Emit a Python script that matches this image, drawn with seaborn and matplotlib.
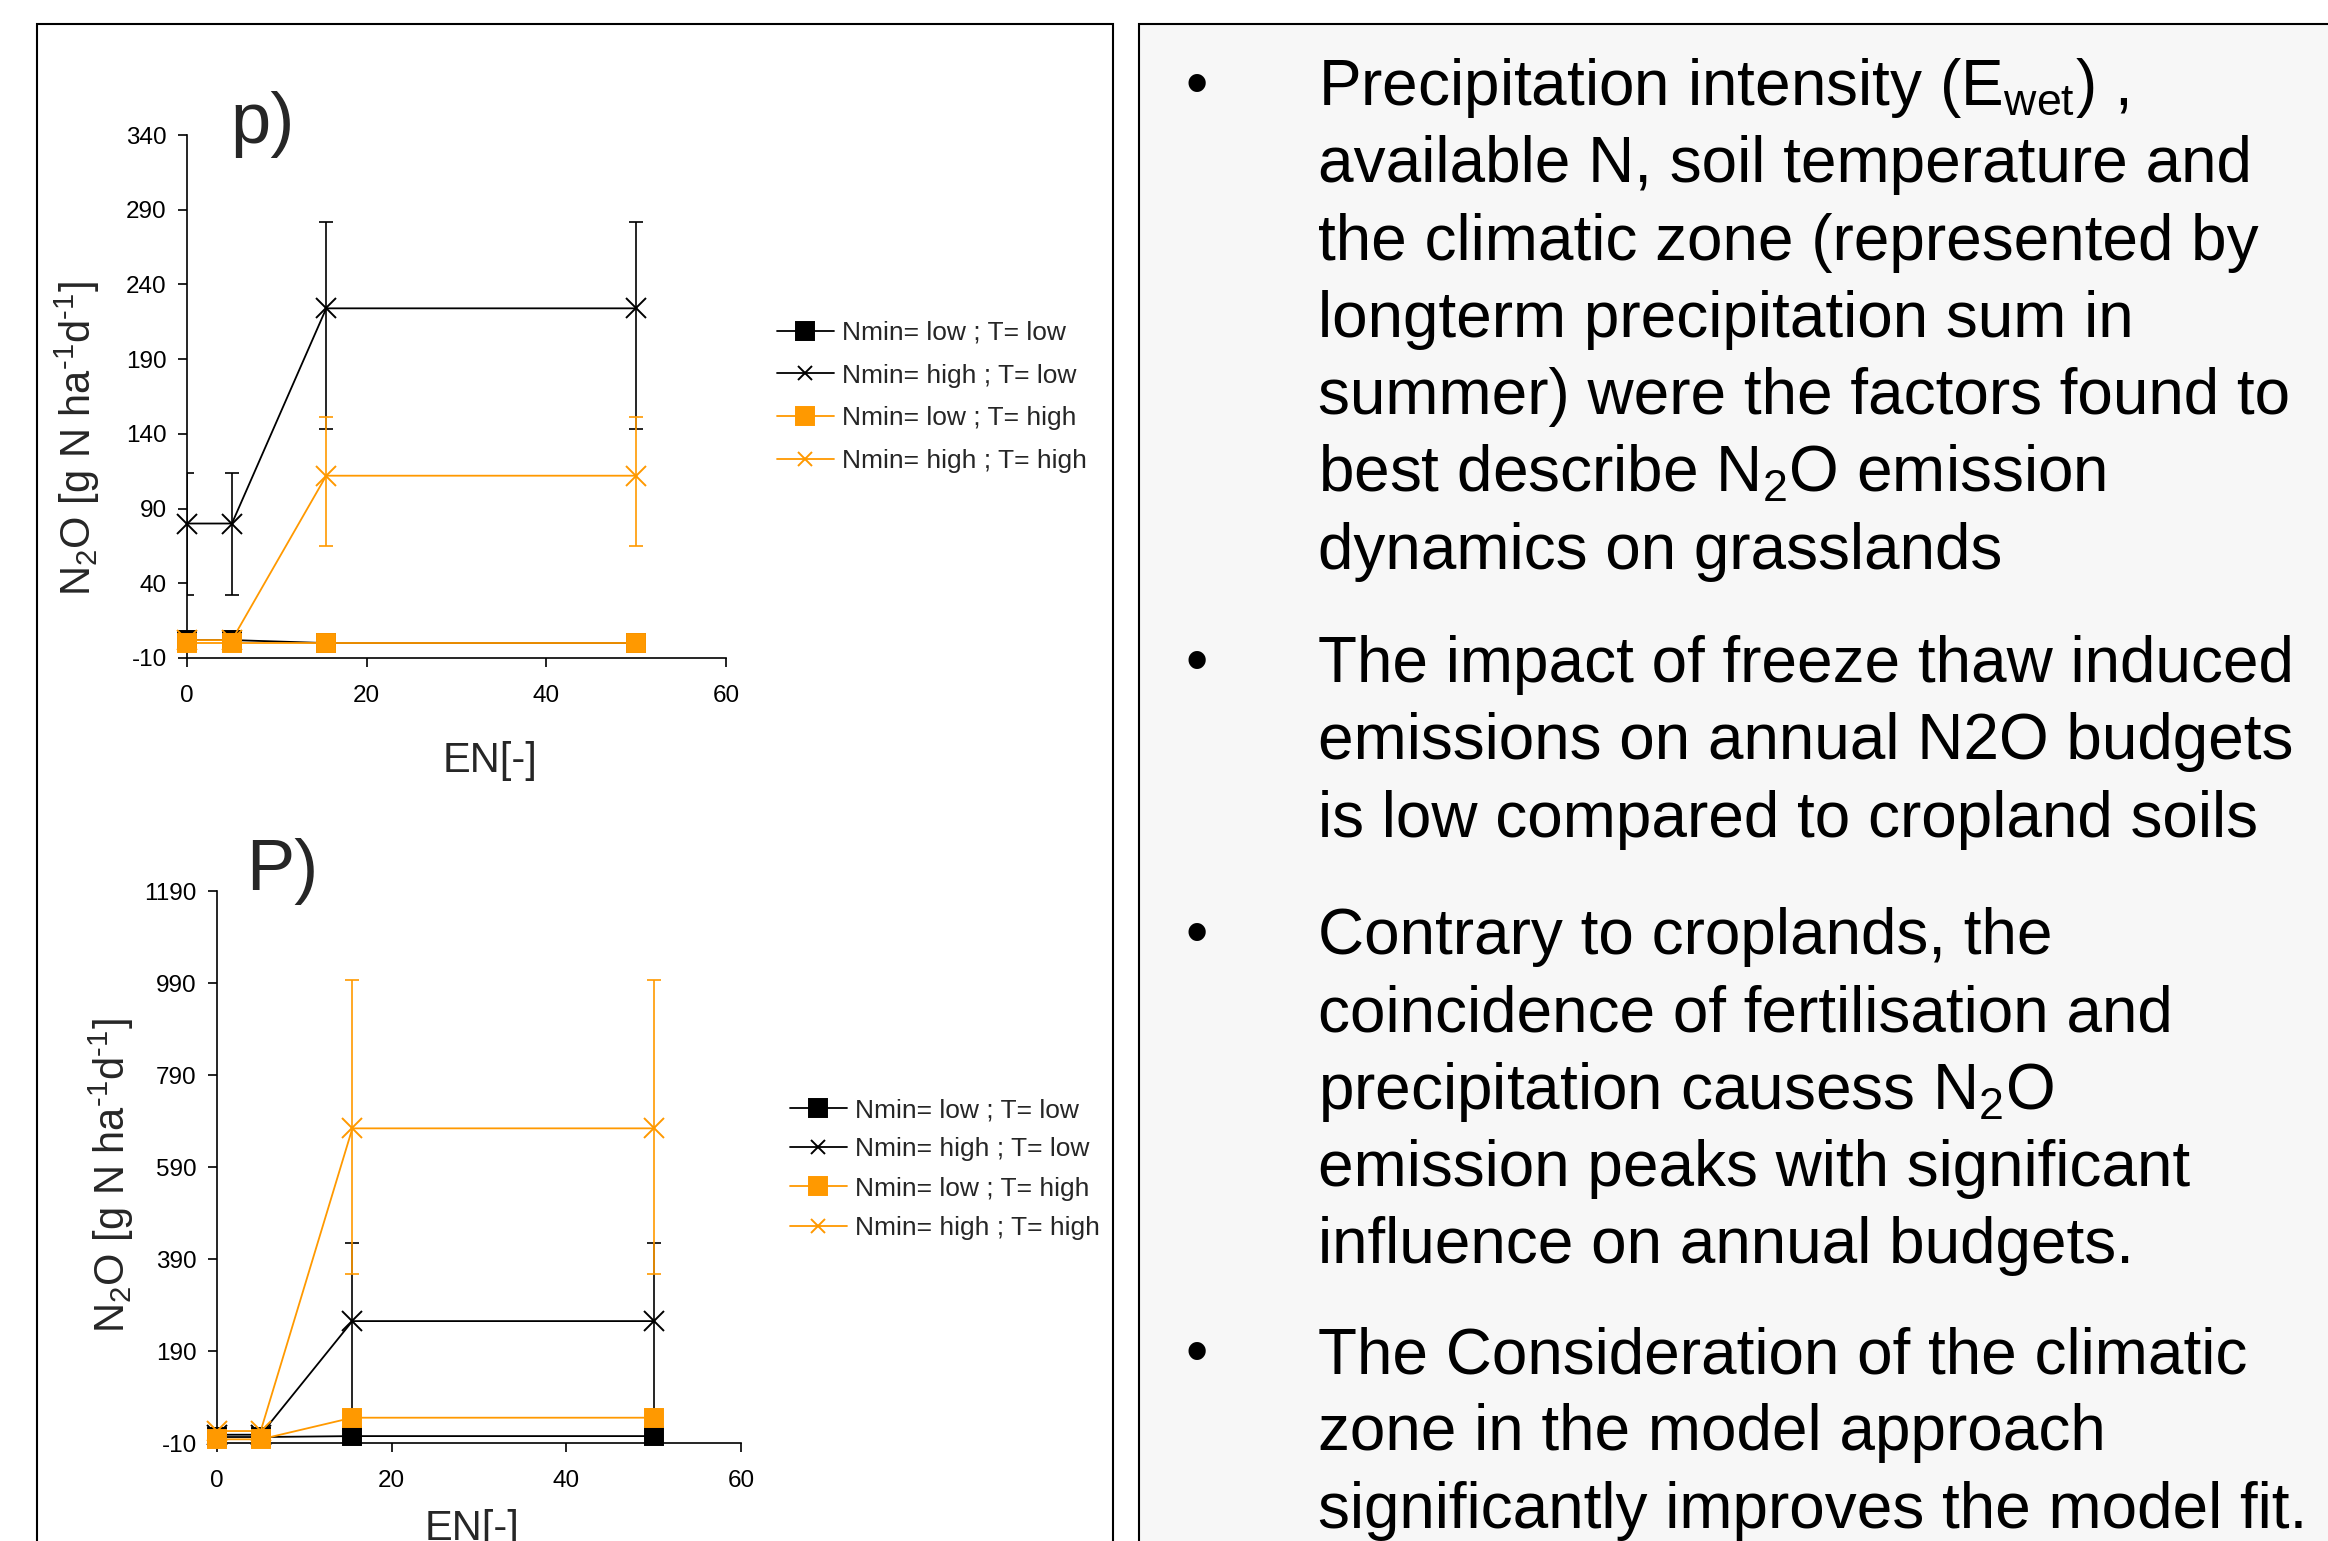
import matplotlib
matplotlib.use("Agg")
import matplotlib.pyplot as plt
import seaborn as sns
import numpy as np
from matplotlib.patches import Rectangle
from matplotlib.lines import Line2D

# ---------------- data ----------------
en = [0, 5, 15.5, 50]
series_labels = ["Nmin= low ; T= low", "Nmin= high ; T= low",
                 "Nmin= low ; T= high", "Nmin= high ; T= high"]

# panel p)
p_low_low = [2, 2, 0, 0]
p_high_low = [80, 80, 224, 224]
p_low_high = [0, 0, 0, 0]
p_high_high = [2, 2, 112, 112]
p_low_low_err_lo = [0, 0, 0, 0]
p_low_low_err_hi = [4, 4, 0, 0]
p_high_low_err_lo = [48, 48, 81, 81]
p_high_low_err_hi = [34, 34, 58, 58]
p_low_high_err_lo = [0, 0, 0, 0]
p_low_high_err_hi = [0, 0, 0, 0]
p_high_high_err_lo = [0, 0, 47, 47]
p_high_high_err_hi = [0, 0, 39, 39]
p_yticks = [-10, 40, 90, 140, 190, 240, 290, 340]

# panel P)
P_low_low = [3, 3, 5, 5]
P_high_low = [8, 8, 255, 255]
P_low_high = [-2, -2, 45, 45]
P_high_high = [16, 16, 674, 674]
P_low_low_err_lo = [0, 0, 0, 0]
P_low_low_err_hi = [0, 0, 0, 0]
P_high_low_err_lo = [0, 0, 300, 300]
P_high_low_err_hi = [0, 0, 169, 169]
P_low_high_err_lo = [0, 0, 0, 0]
P_low_high_err_hi = [0, 0, 0, 0]
P_high_high_err_lo = [0, 0, 316, 316]
P_high_high_err_hi = [0, 0, 323, 323]
P_yticks = [-10, 190, 390, 590, 790, 990, 1190]

x_ticks = [0, 20, 40, 60]

para1 = ["Precipitation intensity (E$_{\\mathrm{wet}}$) ,",
         "available N, soil temperature and",
         "the climatic zone (represented by",
         "longterm precipitation sum in",
         "summer) were the factors found to",
         "best describe N$_2$O emission",
         "dynamics on grasslands"]
para2 = ["The impact of freeze thaw induced",
         "emissions on annual N2O budgets",
         "is low compared to cropland soils"]
para3 = ["Contrary to croplands, the",
         "coincidence of fertilisation and",
         "precipitation causess N$_2$O",
         "emission peaks with significant",
         "influence on annual budgets."]
para4 = ["The Consideration of the climatic",
         "zone in the model approach",
         "significantly improves the model fit."]

# ---------------- style ----------------
sns.set_style("ticks")
plt.rcParams["font.family"] = ["Liberation Sans", "DejaVu Sans"]
plt.rcParams["mathtext.fontset"] = "custom"
plt.rcParams["mathtext.rm"] = "Liberation Sans"
plt.rcParams["mathtext.it"] = "Liberation Sans:italic"
plt.rcParams["mathtext.bf"] = "Liberation Sans:bold"
plt.rcParams["axes.unicode_minus"] = False

ORANGE = "#FF9900"
colors = ["black", "black", ORANGE, ORANGE]
markers = ["s", "x", "s", "x"]
msizes = [12.5, 14, 12.5, 14]
leg_msizes = [12.5, 9.5, 12.5, 9.5]

W, H = 2328, 1541
fig = plt.figure(figsize=(W / 100, H / 100), dpi=100)
fig.patch.set_facecolor("white")

# panel boxes
fig.add_artist(Rectangle((37 / W, -0.05), (1113 - 37) / W, 1 - 24 / H + 0.05,
                         transform=fig.transFigure, facecolor="white",
                         edgecolor="black", linewidth=1.5, zorder=-2))
fig.add_artist(Rectangle((1139 / W, -0.05), 0.6, 1 - 24 / H + 0.05,
                         transform=fig.transFigure, facecolor="#f7f7f7",
                         edgecolor="black", linewidth=1.5, zorder=-2))


def draw_panel(ax, vals, errs, yticks, title, title_xy, ylab_xy, xlab_xy,
               leg_xy, labelspacing):
    for i, (v, (lo, hi)) in enumerate(zip(vals, errs)):
        c = colors[i]
        lo = np.asarray(lo, float)
        hi = np.asarray(hi, float)
        xs = np.asarray(en, float)
        vv = np.asarray(v, float)
        m = (lo + hi) > 0
        if m.any():
            ax.errorbar(xs[m], vv[m], yerr=[lo[m], hi[m]], fmt="none",
                        ecolor=c, elinewidth=1.2, capsize=5, capthick=1.2,
                        zorder=3 + 2 * i)
        sns.lineplot(x=en, y=v, ax=ax, color=c, marker=markers[i],
                     markersize=msizes[i], markeredgecolor=c,
                     markerfacecolor=c, markeredgewidth=1.4, linewidth=1.3,
                     errorbar=None, label=series_labels[i], clip_on=False,
                     zorder=4 + 2 * i)
    handles = [Line2D([], [], color=colors[i], marker=markers[i],
                      markersize=leg_msizes[i], markeredgecolor=colors[i],
                      markerfacecolor=colors[i], markeredgewidth=1.4,
                      linewidth=1.3) for i in range(4)]
    ax.legend(handles, series_labels, loc="center left", bbox_to_anchor=leg_xy,
              bbox_transform=fig.transFigure, frameon=False,
              fontsize=19, borderpad=0, borderaxespad=0,
              handlelength=2.15, handletextpad=0.3,
              labelspacing=labelspacing)
    ax.set_xlim(0, 60)
    ax.set_ylim(yticks[0], yticks[-1])
    ax.set_xticks(x_ticks)
    ax.set_yticks(yticks)
    sns.despine(ax=ax)
    for s in ["left", "bottom"]:
        ax.spines[s].set_color("black")
        ax.spines[s].set_linewidth(1.2)
    ax.tick_params(axis="both", direction="out", length=6.5, width=1.2,
                   labelsize=17.5, color="black", labelcolor="black")
    ax.tick_params(axis="x", pad=13)
    ax.tick_params(axis="y", pad=8)
    ax.set_xlabel("EN[-]", fontsize=30)
    ax.xaxis.set_label_coords(*xlab_xy)
    ax.xaxis.label.set_va("center")
    ax.set_ylabel("N$_2$O [g N ha$^{\\text{-1}}$d$^{\\text{-1}}$]", fontsize=30)
    ax.yaxis.set_label_coords(*ylab_xy)
    ax.yaxis.label.set_va("center")
    ax.text(title_xy[0], title_xy[1], title, transform=ax.transAxes,
            fontsize=52, ha="center", va="center")
    ax.set_facecolor("none")


ax1 = fig.add_axes([187 / W, 1 - 658 / H, (726 - 187) / W, (658 - 135) / H])
draw_panel(ax1,
           [p_low_low, p_high_low, p_low_high, p_high_high],
           [(p_low_low_err_lo, p_low_low_err_hi),
            (p_high_low_err_lo, p_high_low_err_hi),
            (p_low_high_err_lo, p_low_high_err_hi),
            (p_high_high_err_lo, p_high_high_err_hi)],
           p_yticks, "p)", (0.14, 1.02), (-0.204, 0.42), (0.562, -0.196),
           (777 / W, 1 - 397 / H), 0.71)

ax2 = fig.add_axes([217 / W, 1 - 1443 / H, (741 - 217) / W, (1443 - 891) / H])
draw_panel(ax2,
           [P_low_low, P_high_low, P_low_high, P_high_high],
           [(P_low_low_err_lo, P_low_low_err_hi),
            (P_high_low_err_lo, P_high_low_err_hi),
            (P_low_high_err_lo, P_low_high_err_hi),
            (P_high_high_err_lo, P_high_high_err_hi)],
           P_yticks, "P)", (0.125, 1.036), (-0.201, 0.484), (0.487, -0.156),
           (790 / W, 1 - 1169 / H), 0.58)

# ---------------- right text panel ----------------
step = 77.3
for para, base in zip([para1, para2, para3, para4], [105, 682, 954, 1373]):
    fig.text(1197 / W, 1 - base / H, "\u2022", fontsize=46, ha="center",
             va="baseline", color="black")
    for k, line in enumerate(para):
        fig.text(1318 / W, 1 - (base + k * step) / H, line, fontsize=46,
                 ha="left", va="baseline", color="black")

fig.savefig("out.png", dpi=100)
